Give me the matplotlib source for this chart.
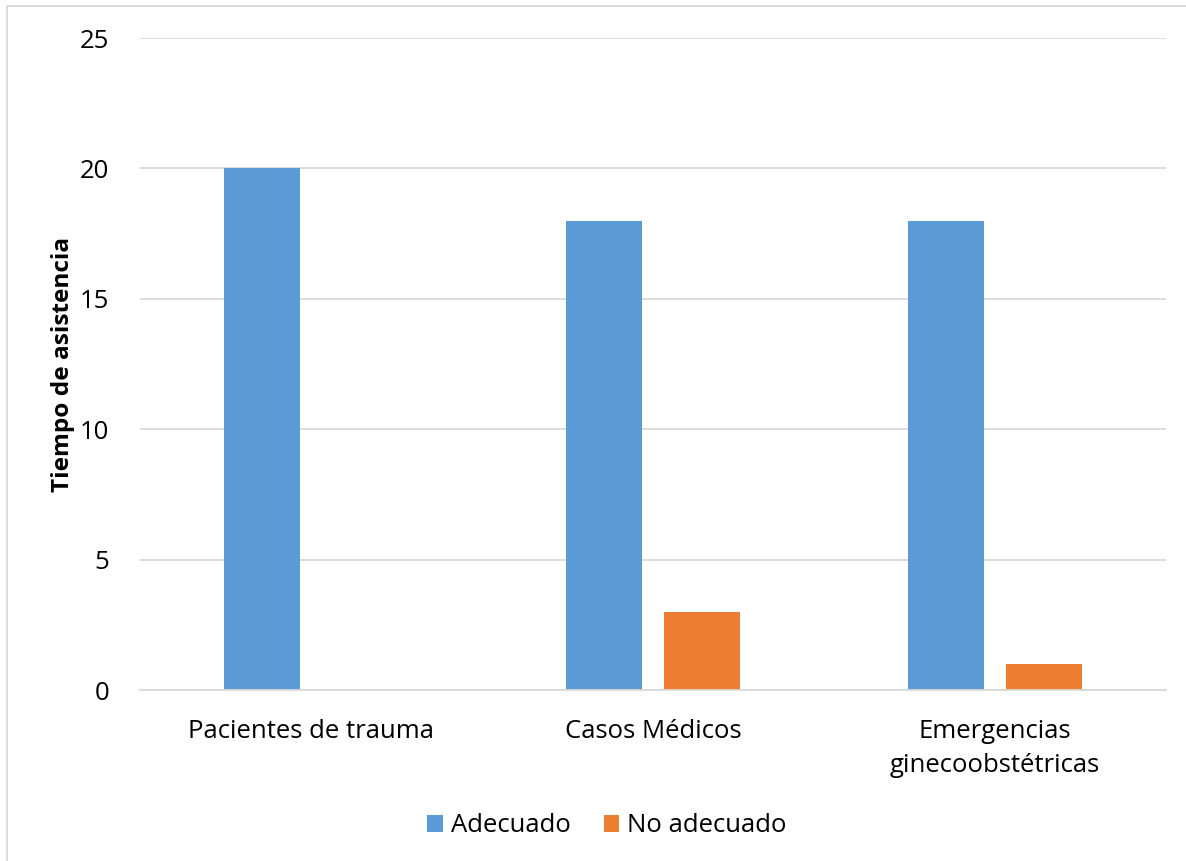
import matplotlib
matplotlib.use("Agg")
import matplotlib.pyplot as plt
import numpy as np
from matplotlib.patches import Rectangle

categories = ["Pacientes de trauma", "Casos Médicos", "Emergencias\nginecoobstétricas"]
adecuado = [20, 18, 18]
no_adecuado = [0, 3, 1]
series_names = ["Adecuado", "No adecuado"]
colors = ["#5B9BD5", "#ED7D31"]
yticks = [0, 5, 10, 15, 20, 25]

plt.rcParams['font.family'] = ['Open Sans', 'DejaVu Sans']

fig = plt.figure(figsize=(11.86, 8.61), dpi=100)
ax = fig.add_axes([140/1186, 1-690/861, 1026/1186, 652/861])

x = np.arange(len(categories))
w = 0.222
off = 0.142
ax.bar(x - off, adecuado, w, color=colors[0], label=series_names[0], zorder=3)
ax.bar(x + off, no_adecuado, w, color=colors[1], label=series_names[1], zorder=3)

ax.set_xlim(-0.5, 2.5)
ax.set_ylim(0, 25)
ax.set_yticks(yticks)
ax.set_yticklabels([str(t) for t in yticks], fontsize=18.5)
ax.set_xticks(x)
ax.set_xticklabels(categories, fontsize=18.5, linespacing=1.45)
ax.tick_params(axis='both', length=0, colors='#000000')
ax.tick_params(axis='y', pad=22)
ax.tick_params(axis='x', pad=21)
ax.grid(axis='y', color='#D9D9D9', linewidth=1.3, zorder=0)
for s in ['top', 'right', 'left']:
    ax.spines[s].set_visible(False)
ax.spines['bottom'].set_color('#D9D9D9')
ax.spines['bottom'].set_linewidth(1.3)
ax.spines['bottom'].set_zorder(4)

ax.set_ylabel("Tiempo de asistencia", fontsize=17.6, fontweight='bold', labelpad=4)

leg = fig.legend(loc='center', bbox_to_anchor=(607/1186, 1-826/861), ncol=2,
                 frameon=False, fontsize=18.5, handlelength=0.6, handleheight=0.6,
                 handletextpad=0.3, columnspacing=1.3)

fig.patches.append(Rectangle((7/1186, -0.05), 1.2, 1-6/861+0.05, transform=fig.transFigure,
                             fill=False, edgecolor='#D9D9D9', linewidth=1.3))

fig.savefig("out.png", dpi=100)
